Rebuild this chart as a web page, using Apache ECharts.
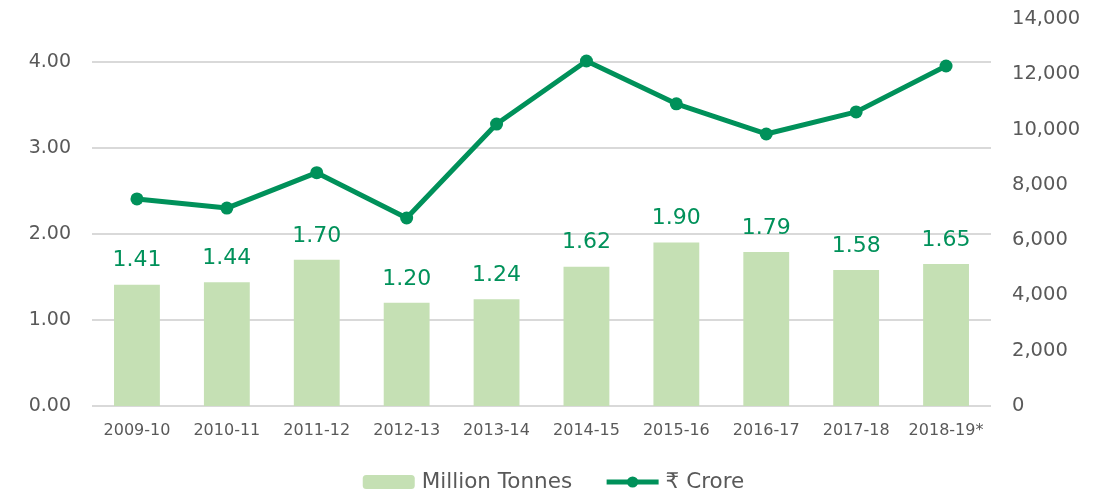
<!DOCTYPE html>
<html>
<head>
<meta charset="utf-8">
<script src="https://cdn.jsdelivr.net/npm/echarts@6/dist/echarts.min.js"></script>
<style>
html, body { margin: 0; padding: 0; background: #fff; }
#main { width: 1107px; height: 491px; }
</style>
</head>
<body>
<div id="main"></div>
<script>
var years = ['2009-10', '2010-11', '2011-12', '2012-13', '2013-14', '2014-15', '2015-16', '2016-17', '2017-18', '2018-19*'];
var tonnes = [1.41, 1.44, 1.70, 1.20, 1.24, 1.62, 1.90, 1.79, 1.58, 1.65];
var crore = [7490, 7160, 8440, 6800, 10200, 12480, 10930, 9840, 10640, 12300];

var font = 'DejaVu Sans';
var option = {
    animation: false,
    textStyle: { fontFamily: font },
    grid: {
        left: 92,
        right: 116,
        top: 19,
        bottom: 85
    },
    legend: {
        top: 466,
        left: 'center',
        itemWidth: 52,
        itemHeight: 14,
        itemGap: 32,
        textStyle: { color: '#595959', fontSize: 21.5, fontFamily: font, padding: [0, 0, 0, 2] },
        data: [
            'Million Tonnes',
            { name: '₹ Crore', lineStyle: { width: 5 }, itemStyle: { color: '#00915a' } }
        ]
    },
    xAxis: [{
        type: 'category',
        data: years,
        axisLine: { show: false },
        axisTick: { show: false },
        axisLabel: { color: '#595959', fontSize: 16, margin: 17, interval: 0 }
    }],
    yAxis: [{
        type: 'value',
        min: 0,
        max: 4.5,
        interval: 1,
        axisLine: { show: false },
        axisTick: { show: false },
        axisLabel: {
            color: '#595959',
            fontSize: 19,
            margin: 21,
            showMaxLabel: false,
            formatter: function (v) { return v.toFixed(2); }
        },
        splitLine: { showMaxLine: false, lineStyle: { color: '#d9d9d9', width: 2 } }
    }, {
        type: 'value',
        min: 0,
        max: 14000,
        interval: 2000,
        axisLine: { show: false },
        axisTick: { show: false },
        splitLine: { show: false },
        axisLabel: {
            color: '#595959',
            fontSize: 19.5,
            margin: 21,
            formatter: function (v) { return v.toLocaleString('en-US'); }
        }
    }],
    series: [{
        name: 'Million Tonnes',
        type: 'bar',
        barWidth: '51%',
        itemStyle: { color: '#c5e0b4' },
        label: {
            show: true,
            position: 'top',
            distance: 13,
            color: '#00915a',
            fontSize: 22,
            formatter: function (p) { return p.value.toFixed(2); }
        },
        data: tonnes
    }, {
        name: '₹ Crore',
        type: 'line',
        yAxisIndex: 1,
        symbol: 'circle',
        symbolSize: 13,
        itemStyle: { color: '#00915a' },
        lineStyle: { color: '#00915a', width: 5 },
        data: crore
    }]
};
var chart = echarts.init(document.getElementById('main'));
chart.setOption(option);
</script>
</body>
</html>
